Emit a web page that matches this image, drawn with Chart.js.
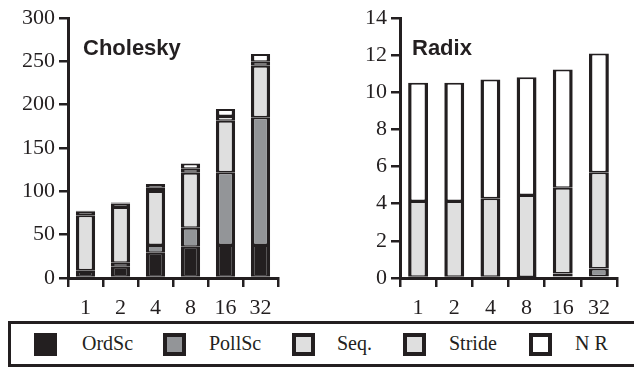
<!DOCTYPE html>
<html>
<head>
  <meta charset="utf-8">
  <title>Cholesky / Radix breakdown</title>
  <script src="https://cdn.jsdelivr.net/npm/chart.js@4.4.0/dist/chart.umd.min.js"></script>
  <style>
    body {
      margin: 0;
      background: #fff;
      overflow: hidden;
    }
    #wrap {
      position: relative;
      width: 634px;
      height: 369px;
    }
    canvas {
      position: absolute;
      top: 0;
    }
    .legend-box {
      position: absolute;
      left: 8px;
      top: 321px;
      width: 640px;
      height: 46px;
      border: 3px solid #231f20;
      box-sizing: border-box;
    }
    .swatch {
      position: absolute;
      top: 333px;
      width: 23px;
      height: 23px;
      border: 4px solid #231f20;
      box-sizing: border-box;
    }
    .label {
      position: absolute;
      top: 333px;
      font-family: "Liberation Serif", serif;
      font-size: 20px;
      line-height: 20px;
      color: #231f20;
      white-space: nowrap;
    }
  </style>
</head>
<body>
<div id="wrap">
  <canvas id="cholChart" width="317" height="320" style="left:0"></canvas>
  <canvas id="radixChart" width="317" height="320" style="left:317px"></canvas>
  <div class="legend-box"></div>
  <div id="legend"></div>
</div>

<script>
// processor counts on the x axis
const categories = ['1', '2', '4', '8', '16', '32'];
const seriesNames = ['OrdSc', 'PollSc', 'Seq.', 'Stride', 'N R'];
const seriesColors = ['#231f20', '#939598', '#dfdfdf', '#dfdfdf', '#ffffff'];

// Cholesky
const cholOrdSc = [8, 13, 29, 36, 38, 38];
const cholPollSc = [1, 4.5, 9, 22, 84, 147.5];
const cholSeq = [63.5, 64.5, 62.5, 63.5, 59.5, 59.5];
const cholStride = [4, 4, 3.5, 4.5, 5.5, 4.5];
const cholNR = [1, 1, 4.5, 6, 8, 9];

// Radix
const radixOrdSc = [0, 0, 0, 0.03, 0.08, 0.1];
const radixPollSc = [0, 0, 0, 0.03, 0.16, 0.41];
const radixSeq = [4.15, 4.15, 4.29, 4.41, 4.62, 5.19];
const radixStride = [0, 0, 0, 0, 0, 0];
const radixNR = [6.36, 6.36, 6.4, 6.34, 6.37, 6.39];

const ink = '#231f20';

function makeDatasets(series) {
  return series.map((values, i) => ({
    label: seriesNames[i],
    data: values,
    backgroundColor: seriesColors[i],
    borderColor: ink,
    // thick outline on every side so thin slices read as solid black
    borderWidth: { top: 2, bottom: 1.5, left: 3.5, right: 3.5 },
    borderSkipped: false,
    barPercentage: 0.55,
    categoryPercentage: 1
  }));
}

// draws the bold name inside the plot area
function namePlugin(text, dx) {
  return {
    id: 'nameText',
    afterDraw(chart) {
      const ctx = chart.ctx;
      ctx.save();
      ctx.font = 'bold 22px "Liberation Sans", Arial, sans-serif';
      ctx.fillStyle = ink;
      ctx.textBaseline = 'alphabetic';
      ctx.fillText(text, chart.chartArea.left + dx, 55);
      ctx.restore();
    }
  };
}

function makeChart(id, series, yMax, step, padRight, yWidth, name, dx) {
  const tickFont = { family: '"Liberation Serif", serif', size: 22 };
  return new Chart(document.getElementById(id), {
    type: 'bar',
    data: { labels: categories, datasets: makeDatasets(series) },
    options: {
      responsive: false,
      animation: false,
      layout: { padding: { top: 18, right: padRight, bottom: 0, left: 0 } },
      plugins: { legend: { display: false }, tooltip: { enabled: false } },
      scales: {
        x: {
          stacked: true,
          offset: true,
          grid: { offset: true, drawOnChartArea: false, tickLength: 9, color: ink, lineWidth: 2.5 },
          border: { color: ink, width: 3 },
          ticks: { font: tickFont, color: ink, padding: 8, maxRotation: 0 },
          afterFit(scale) { scale.height = 42; }
        },
        y: {
          stacked: true,
          min: 0,
          max: yMax,
          grid: { drawOnChartArea: false, tickLength: 9, color: ink, lineWidth: 2.5 },
          border: { color: ink, width: 3 },
          ticks: { stepSize: step, font: tickFont, color: ink, padding: 4 },
          afterFit(scale) { scale.width = yWidth; }
        }
      }
    },
    plugins: [namePlugin(name, dx)]
  });
}

makeChart('cholChart', [cholOrdSc, cholPollSc, cholSeq, cholStride, cholNR], 300, 50, 39, 68, 'Cholesky', 15);
makeChart('radixChart', [radixOrdSc, radixPollSc, radixSeq, radixStride, radixNR], 14, 2, 17, 83, 'Radix', 12);

// legend row under both charts
const swatchX = [34, 163, 292, 403, 529];
const labelX = [82, 209, 337, 449, 575];
const legend = document.getElementById('legend');
seriesNames.forEach((name, i) => {
  const sw = document.createElement('div');
  sw.className = 'swatch';
  sw.style.left = swatchX[i] + 'px';
  sw.style.backgroundColor = seriesColors[i];
  legend.appendChild(sw);

  const lab = document.createElement('div');
  lab.className = 'label';
  lab.style.left = labelX[i] + 'px';
  lab.textContent = name;
  legend.appendChild(lab);
});
</script>
</body>
</html>
